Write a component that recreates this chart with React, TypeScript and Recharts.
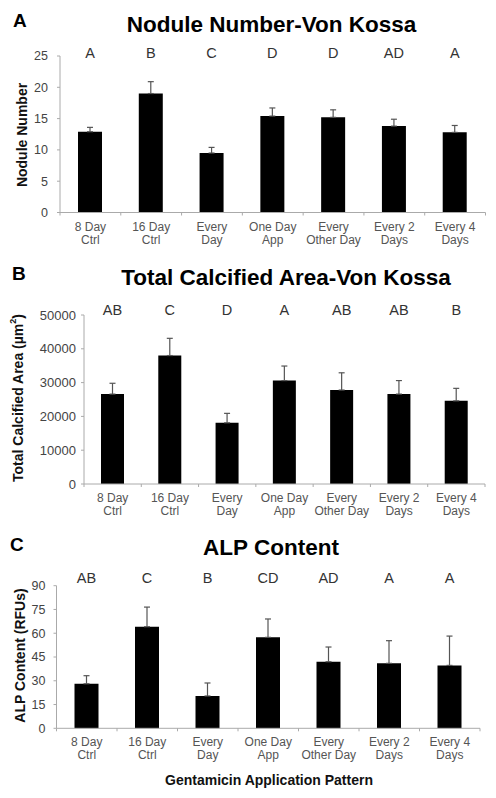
import React from "react";
import { Bar, BarChart, ErrorBar, LabelList, XAxis, YAxis } from "recharts";

const categories = [
  "8 Day\nCtrl",
  "16 Day\nCtrl",
  "Every\nDay",
  "One Day\nApp",
  "Every\nOther Day",
  "Every 2\nDays",
  "Every 4\nDays",
];

const noduleMean = [12.9, 19.0, 9.5, 15.4, 15.2, 13.8, 12.8];
const noduleErr = [0.7, 1.9, 0.9, 1.3, 1.2, 1.1, 1.1];
const noduleSig = ["A", "B", "C", "D", "D", "AD", "A"];
const noduleTicks = [0, 5, 10, 15, 20, 25];

const areaMean = [26600, 38000, 18100, 30600, 27800, 26600, 24600];
const areaErr = [3200, 5100, 2800, 4300, 5100, 4000, 3700];
const areaSig = ["AB", "C", "D", "A", "AB", "AB", "B"];
const areaTicks = [0, 10000, 20000, 30000, 40000, 50000];

const alpMean = [28.1, 64.1, 20.4, 57.4, 42.0, 41.0, 39.7];
const alpErr = [5.1, 12.4, 8.2, 11.6, 9.3, 14.3, 18.5];
const alpSig = ["AB", "C", "B", "CD", "AD", "A", "A"];
const alpTicks = [0, 15, 30, 45, 60, 75, 90];

const FONT = "'Liberation Sans', Arial, sans-serif";
const W = 496;

type PanelProps = {
  top: number;
  height: number;
  plotLeft: number;
  plotRight: number;
  plotTop: number;
  plotBottom: number;
  means: number[];
  errors: number[];
  sig: string[];
  ticks: number[];
  title: string;
  titleX: number;
  titleY: number;
  letter: string;
  letterX: number;
  letterY: number;
  yLabel: React.ReactNode;
  yLabelX: number;
  yLabelY: number;
  sigY: number;
  barSize: number;
  tickGap: number;
  tickFont: number;
  xTitle?: string;
  xTitleY?: number;
};

function Panel(p: PanelProps) {
  const data = categories.map((name, i) => ({
    name,
    mean: p.means[i],
    err: [0, p.errors[i]],
    sig: p.sig[i],
  }));
  const band = (p.plotRight - p.plotLeft) / categories.length;

  const renderTick = (props: any) => {
    const { x, payload, index } = props;
    const lines = String(payload.value).split("\n");
    const y0 = p.plotBottom;
    return (
      <g>
        {index === 0 && (
          <line x1={x - band / 2} x2={x - band / 2} y1={y0} y2={y0 + 3} stroke="#aaa" />
        )}
        <line x1={x + band / 2} x2={x + band / 2} y1={y0} y2={y0 + 3} stroke="#aaa" />
        <text x={x} y={y0 + 14} textAnchor="middle" fontSize={12} fill="#555" fontFamily={FONT}>
          {lines.map((l, i) => (
            <tspan key={i} x={x} dy={i === 0 ? 0 : 13} dominantBaseline="central">
              {l}
            </tspan>
          ))}
        </text>
      </g>
    );
  };

  return (
    <div style={{ position: "absolute", left: 0, top: p.top }}>
      <BarChart
        width={W}
        height={p.height}
        data={data}
        margin={{ top: p.plotTop, right: W - p.plotRight, left: 0, bottom: 0 }}
        barCategoryGap={0}
      >
        <XAxis
          dataKey="name"
          height={p.height - p.plotBottom}
          interval={0}
          tickLine={false}
          axisLine={{ stroke: "#aaa" }}
          tick={renderTick}
        />
        <YAxis
          width={p.plotLeft}
          domain={[0, p.ticks[p.ticks.length - 1]]}
          ticks={p.ticks}
          interval={0}
          tickSize={3}
          tickMargin={p.tickGap}
          tickLine={{ stroke: "#aaa" }}
          axisLine={{ stroke: "#aaa" }}
          tick={{ fill: "#444", fontSize: p.tickFont, fontFamily: FONT }}
        />
        <Bar dataKey="mean" fill="#000" barSize={p.barSize} isAnimationActive={false}>
          <ErrorBar dataKey="err" width={3} stroke="#555" strokeWidth={1.2} direction="y" />
          <LabelList
            dataKey="sig"
            content={(lp: any) => (
              <text
                x={Number(lp.x) + Number(lp.width) / 2}
                y={p.sigY}
                textAnchor="middle"
                dominantBaseline="central"
                fontSize={14.5}
                fill="#333"
                fontFamily={FONT}
              >
                {lp.value}
              </text>
            )}
          />
        </Bar>
        <text
          x={p.titleX}
          y={p.titleY}
          textAnchor="middle"
          dominantBaseline="central"
          fontSize={22.5}
          fontWeight="bold"
          fill="#000"
          fontFamily={FONT}
        >
          {p.title}
        </text>
        <text
          x={p.letterX}
          y={p.letterY}
          dominantBaseline="central"
          fontSize={19}
          fontWeight="bold"
          fill="#000"
          fontFamily={FONT}
        >
          {p.letter}
        </text>
        <text
          x={p.yLabelX}
          y={p.yLabelY}
          transform={`rotate(-90 ${p.yLabelX} ${p.yLabelY})`}
          textAnchor="middle"
          dominantBaseline="central"
          fontSize={14}
          fontWeight="bold"
          fill="#111"
          fontFamily={FONT}
        >
          {p.yLabel}
        </text>
        {p.xTitle && (
          <text
            x={269}
            y={p.xTitleY}
            textAnchor="middle"
            dominantBaseline="central"
            fontSize={14}
            fontWeight="bold"
            fill="#111"
            fontFamily={FONT}
          >
            {p.xTitle}
          </text>
        )}
      </BarChart>
    </div>
  );
}

export default function App() {
  return (
    <div style={{ position: "absolute", left: 0, top: 0, width: W, height: 798, background: "#fff" }}>
      <Panel
        top={0}
        height={260}
        plotLeft={60}
        plotRight={485.5}
        plotTop={56}
        plotBottom={212.5}
        means={noduleMean}
        errors={noduleErr}
        sig={noduleSig}
        ticks={noduleTicks}
        title="Nodule Number-Von Kossa"
        titleX={271.5}
        titleY={24}
        letter="A"
        letterX={13}
        letterY={20}
        yLabel="Nodule Number"
        yLabelX={21.5}
        yLabelY={135}
        sigY={52.7}
        barSize={24}
        tickGap={9}
        tickFont={12.5}
      />
      <Panel
        top={260}
        height={260}
        plotLeft={84}
        plotRight={485}
        plotTop={55}
        plotBottom={224}
        means={areaMean}
        errors={areaErr}
        sig={areaSig}
        ticks={areaTicks}
        title="Total Calcified Area-Von Kossa"
        titleX={286}
        titleY={17.5}
        letter="B"
        letterX={12}
        letterY={13}
        yLabel={
          <>
            Total Calcified Area (µm
            <tspan fontSize={9} dy={-5}>2</tspan>
            <tspan dy={5}>)</tspan>
          </>
        }
        yLabelX={18}
        yLabelY={138}
        sigY={50}
        barSize={23}
        tickGap={5}
        tickFont={13}
      />
      <Panel
        top={520}
        height={278}
        plotLeft={56.5}
        plotRight={480}
        plotTop={65.7}
        plotBottom={208.3}
        means={alpMean}
        errors={alpErr}
        sig={alpSig}
        ticks={alpTicks}
        title="ALP Content"
        titleX={271}
        titleY={27.5}
        letter="C"
        letterX={10}
        letterY={24}
        yLabel="ALP Content (RFUs)"
        yLabelX={20}
        yLabelY={135.5}
        sigY={58.3}
        barSize={24}
        tickGap={8}
        tickFont={12.5}
        xTitle="Gentamicin Application Pattern"
        xTitleY={260}
      />
    </div>
  );
}
